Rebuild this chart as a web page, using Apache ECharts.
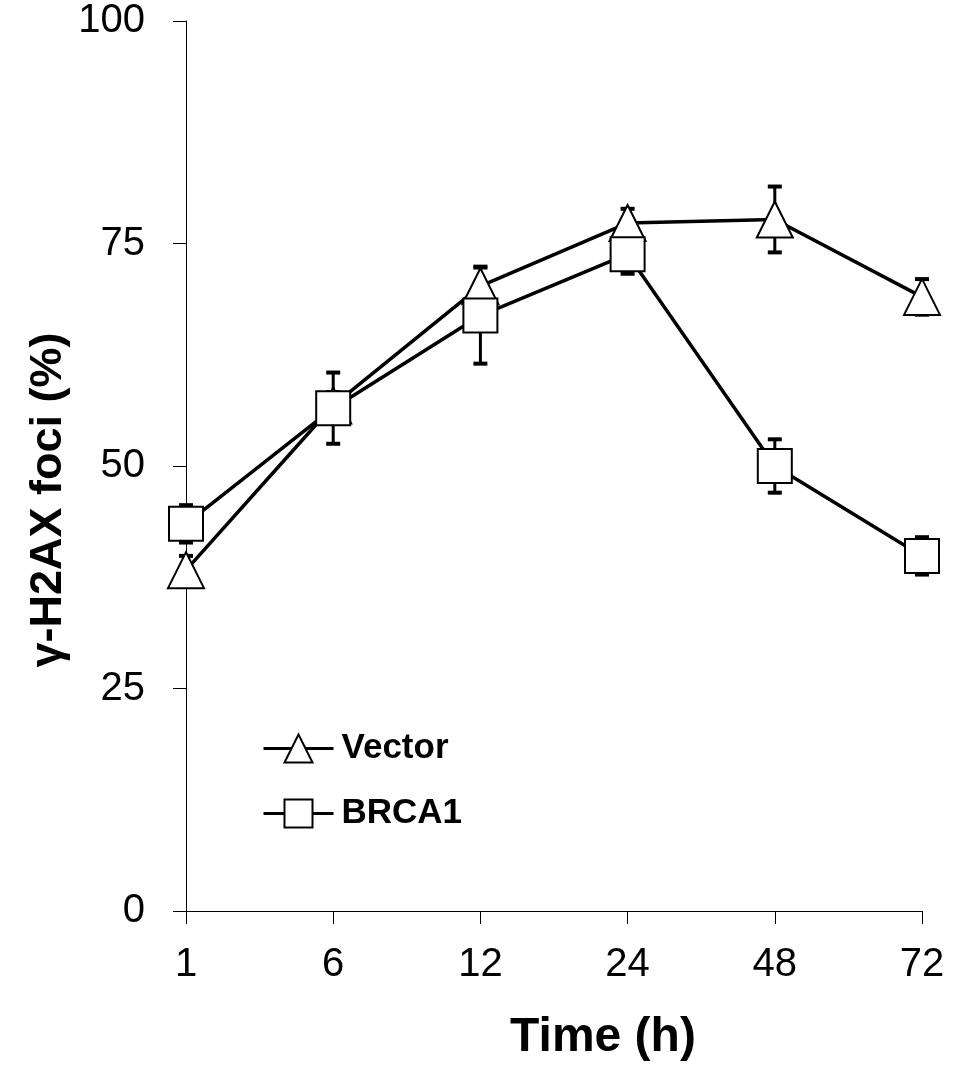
<!DOCTYPE html>
<html>
<head>
<meta charset="utf-8">
<script src="https://cdn.jsdelivr.net/npm/echarts@6/dist/echarts.min.js"></script>
<style>
  html, body { margin: 0; padding: 0; background: #fff; }
  #chart { width: 962px; height: 1070px; }
</style>
</head>
<body>
<div id="chart"></div>
<script>
// Time points (h) and tick values
const timePoints = ['1', '6', '12', '24', '48', '72'];
const yTicks = [0, 25, 50, 75, 100];

// γ-H2AX foci positive cells (%), mean and error
const vectorMean = [38.3, 56.8, 70.2, 77.3, 77.7, 69.0];
const vectorErr  = [1.6, 1.5, 2.2, 1.6, 3.7, 2.0];
const brca1Mean  = [43.5, 56.5, 66.9, 73.8, 50.0, 39.9];
const brca1Err   = [2.1, 4.0, 5.4, 2.2, 3.0, 2.1];

const yTitle = 'γ-H2AX foci (%)';
const xTitle = 'Time (h)';

const FONT = '"Liberation Sans", Arial, sans-serif';

function errRows(mean, err) {
  return mean.map((m, i) => [i, m, err[i]]);
}

// vertical error bar with caps at mean ± err
function renderErrorBar(params, api) {
  const x = api.value(0), y = api.value(1), e = api.value(2);
  const hi = api.coord([x, y + e]);
  const lo = api.coord([x, y - e]);
  const cap = 7;
  const stem = { stroke: '#000', lineWidth: 3 };
  const capStyle = { stroke: '#000', lineWidth: 4 };
  return {
    type: 'group',
    children: [
      { type: 'line', shape: { x1: hi[0], y1: hi[1], x2: lo[0], y2: lo[1] }, style: stem },
      { type: 'line', shape: { x1: hi[0] - cap, y1: hi[1], x2: hi[0] + cap, y2: hi[1] }, style: capStyle },
      { type: 'line', shape: { x1: lo[0] - cap, y1: lo[1], x2: lo[0] + cap, y2: lo[1] }, style: capStyle }
    ]
  };
}

const chart = echarts.init(document.getElementById('chart'), null, { renderer: 'canvas' });

const markerStyle = { color: '#fff', borderColor: '#000', borderWidth: 2 };

chart.setOption({
  animation: false,
  backgroundColor: '#fff',
  grid: { left: 186, right: 40, top: 21, bottom: 159 },
  graphic: [
    {
      type: 'text',
      x: 49,
      y: 500,
      rotation: Math.PI / 2,
      style: {
        text: yTitle,
        font: 'bold 45px ' + FONT,
        fill: '#000',
        align: 'center',
        verticalAlign: 'middle'
      }
    },
    {
      type: 'text',
      x: 603,
      y: 1038,
      style: {
        text: xTitle,
        font: 'bold 48px ' + FONT,
        fill: '#000',
        align: 'center',
        verticalAlign: 'middle'
      }
    }
  ],
  legend: {
    data: ['Vector', 'BRCA1'],
    orient: 'vertical',
    left: 257,
    top: 726,
    itemWidth: 70,
    itemHeight: 35,
    itemGap: 30,
    lineStyle: { width: 3, color: '#000' },
    textStyle: { fontFamily: FONT, fontWeight: 'bold', fontSize: 35, color: '#000', padding: [0, 0, 0, 3] }
  },
  xAxis: {
    type: 'category',
    data: timePoints,
    boundaryGap: false,
    axisLine: { lineStyle: { color: '#000', width: 1 } },
    axisTick: { show: true, length: 13, alignWithLabel: true, lineStyle: { color: '#000' } },
    axisLabel: { fontFamily: FONT, fontSize: 40, color: '#000', margin: 34 },
    splitLine: { show: false }
  },
  yAxis: {
    type: 'value',
    min: 0,
    max: 100,
    interval: 25,
    axisLine: { show: true, lineStyle: { color: '#000', width: 1 } },
    axisTick: { show: true, length: 13, lineStyle: { color: '#000' } },
    axisLabel: {
      fontFamily: FONT, fontSize: 40, color: '#000', margin: 41,
      formatter: v => (yTicks.indexOf(v) >= 0 ? String(v) : '')
    },
    splitLine: { show: false }
  },
  series: [
    {
      name: 'Vector err',
      type: 'custom',
      renderItem: renderErrorBar,
      encode: { x: 0, y: 1 },
      data: errRows(vectorMean, vectorErr),
      z: 1
    },
    {
      name: 'BRCA1 err',
      type: 'custom',
      renderItem: renderErrorBar,
      encode: { x: 0, y: 1 },
      data: errRows(brca1Mean, brca1Err),
      z: 1
    },
    {
      name: 'Vector',
      type: 'line',
      data: vectorMean,
      symbol: 'triangle',
      symbolSize: 36,
      showAllSymbol: true,
      lineStyle: { color: '#000', width: 3.5 },
      itemStyle: markerStyle,
      z: 3
    },
    {
      name: 'BRCA1',
      type: 'line',
      data: brca1Mean,
      symbol: 'rect',
      symbolSize: 34,
      showAllSymbol: true,
      lineStyle: { color: '#000', width: 3.5 },
      itemStyle: markerStyle,
      z: 4
    }
  ]
});
</script>
</body>
</html>
